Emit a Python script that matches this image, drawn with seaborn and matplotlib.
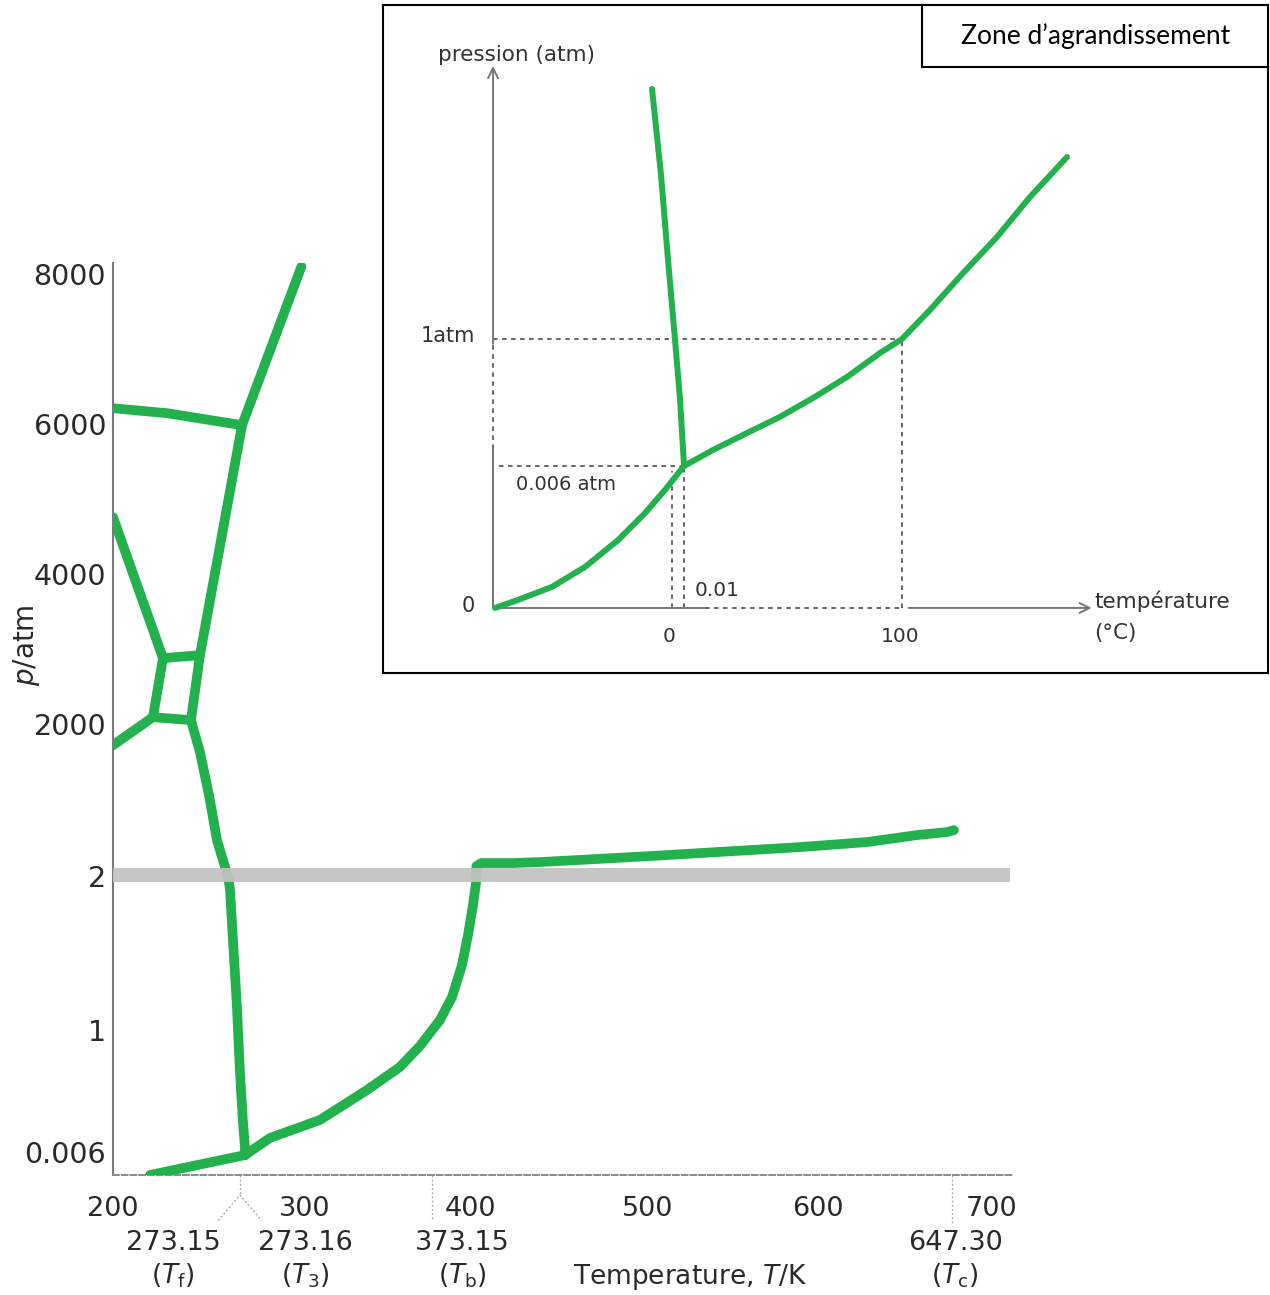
import numpy as np
import matplotlib
matplotlib.use("Agg")
import matplotlib.pyplot as plt
import seaborn as sns
from matplotlib.patches import Rectangle

# ---------------- DATA : main phase diagram (T in K, p in atm) ----------------
ice_top_T = [200.0, 231.1, 274.0]
ice_top_p = [6213, 6147, 5987]

ice_vii_T = [298.5, 274.0]
ice_vii_p = [8100, 5987]

melt_T = [274.0, 250.1, 244.9, 250.1, 255.3, 259.9, 262.8, 265.1, 266.8,
          267.4, 269.1, 271.4, 273.15, 274.4, 275.2, 275.2]
melt_p = [5987, 2920, 2053, 1631, 1066, 475, 252, 81, 1.96,
          1.909, 1.584, 1.149, 0.650, 0.242, 0.047, 0.0052]

ice_v_T = [200.0, 228.8]
ice_v_p = [4760, 2880]

ice_mid_top_T = [228.8, 250.1]
ice_mid_top_p = [2880, 2920]

ice_mid_left_T = [228.8, 223.0]
ice_mid_left_p = [2880, 2093]

ice_mid_low_T = [223.0, 244.9]
ice_mid_low_p = [2093, 2053]

ice_low_left_T = [200.0, 223.0]
ice_low_left_p = [1723, 2093]

subl_T = [221.3, 275.2]
subl_p = [0.0, 0.0052]

vap_T = [275.2, 285.5, 308.6, 335.7, 354.7, 366.2, 378.8, 387.3, 394.35, 398.6,
         401.7, 403.6, 403.6, 406.4, 424.2, 439.3, 501.2, 589.4, 617.3, 634.9,
         645.5, 649.9]
vap_p = [0.0052, 0.120, 0.267, 0.511, 0.699, 0.870, 1.065, 1.214, 1.422, 1.617,
         1.812, 1.974, 133, 173, 173, 186, 265, 383, 449, 541,
         580, 606]

x_ticks = [200, 300, 400, 500, 600, 700]
x_tick_labels = ["200", "300", "400", "500", "600", "700"]
y_ticks = [0.006, 1, 2, 2000, 4000, 6000, 8000]
y_tick_labels = ["0.006", "1", "2", "2000", "4000", "6000", "8000"]
special_T = [273.15, 373.15, 647.30]
special_values = ["273.15", "273.16", "373.15", "647.30"]
special_names = [r"($T_{\rm f}$)", r"($T_3$)", r"($T_{\rm b}$)", r"($T_{\rm c}$)"]

# ---------------- DATA : magnified inset (T in °C, p in atm) ----------------
ins_melt_T = [-9.05, -4.98, -1.81, 0.0025, 0.0067, 0.01]
ins_melt_p = [2.786, 2.171, 1.564, 0.992, 0.523, 0.006]
ins_vap_T = [-80.1, -69.7, -54.3, -39.4, -24.4, -12.2, -3.17, 0.01,
             13.3, 28.9, 44.0, 59.2, 74.8, 89.9, 100, 112.8, 128.0, 143.6,
             158.7, 175.7]
ins_vap_p = [0.0, 0.00034, 0.00089, 0.00173, 0.00287, 0.00401, 0.00499, 0.006,
             0.131, 0.264, 0.390, 0.538, 0.703, 0.890, 1.0, 1.207, 1.471, 1.729,
             2.014, 2.300]

# ---------------- axis scale knots (value -> pixel of the drawing) ----------------
X_KNOTS_VAL = [150, 200, 273.15, 300, 373.15, 400, 500, 600, 647.3, 700, 750]
X_KNOTS_PX = [26.2, 113, 240, 305, 432, 470, 648, 818, 952, 992, 1030]
Y_KNOTS_VAL = [-0.006, 0, 0.006, 1, 2, 2000, 8000, 9000]
Y_KNOTS_PX = [1198, 1175, 1152, 1030, 876, 724, 274, 199]

IX_KNOTS_VAL = [-150, -81, 0, 0.01, 100, 300]
IX_KNOTS_PX = [340.5, 493, 672, 684, 902, 1338]
IY_KNOTS_VAL = [-0.01, 0, 0.006, 1, 4]
IY_KNOTS_PX = [844.7, 608, 466, 339, -81]


def piecewise(vals, pos):
    vals = np.asarray(vals, float)
    pos = np.asarray(pos, float)
    if pos[0] > pos[-1]:
        pos = -pos

    def fwd(v):
        return np.interp(v, vals, pos)

    def inv(u):
        return np.interp(u, pos, vals)
    return fwd, inv


GREEN = "#22b14c"
TXT = "#2a2a2a"
AXC = "#7a7a7a"

sns.set_style("white")
plt.rcParams["font.family"] = ["DejaVu Sans"]

W, H = 1270, 1295
fig = plt.figure(figsize=(W / 100, H / 100), dpi=100)

# ================= main axes =================
ax = fig.add_axes([113 / W, 1 - 1175 / H, (1012 - 113) / W, (1175 - 263) / H])
ax.set_xscale("function", functions=piecewise(X_KNOTS_VAL, X_KNOTS_PX))
ax.set_yscale("function", functions=piecewise(Y_KNOTS_VAL, Y_KNOTS_PX))

segments = [
    (ice_top_T, ice_top_p), (ice_vii_T, ice_vii_p), (melt_T, melt_p),
    (ice_v_T, ice_v_p), (ice_mid_top_T, ice_mid_top_p),
    (ice_mid_left_T, ice_mid_left_p), (ice_mid_low_T, ice_mid_low_p),
    (ice_low_left_T, ice_low_left_p), (subl_T, subl_p), (vap_T, vap_p),
]
for xs, ys in segments:
    sns.lineplot(x=xs, y=ys, sort=False, estimator=None, ax=ax, color=GREEN,
                 linewidth=7, solid_capstyle="round", solid_joinstyle="round",
                 zorder=3)

ax.set_xlim(200, 726.4)
ax.set_ylim(0, 8150)

# gray band hiding the axis break at 2 atm
ax.axhspan(1.96, 107, xmin=0, xmax=0.998, color="#c2c2c2", alpha=0.92,
           zorder=5, lw=0)

ax.set_xticks(x_ticks)
ax.set_xticklabels(x_tick_labels)
ax.set_yticks(y_ticks)
ax.set_yticklabels(y_tick_labels)
ax.minorticks_off()
ax.tick_params(axis="both", direction="in", length=8, width=1.3, color=AXC,
               labelcolor=TXT)
ax.tick_params(axis="x", labelsize=19.5, pad=15)
ax.tick_params(axis="y", labelsize=20.5, pad=5)

for s in ["top", "right"]:
    ax.spines[s].set_visible(False)
ax.spines["left"].set_color(AXC)
ax.spines["left"].set_linewidth(1.5)
ax.spines["bottom"].set_color("#8a8a8a")
ax.spines["bottom"].set_linewidth(1.4)
ax.spines["bottom"].set_linestyle((0, (3, 1.5)))
ax.set_xlabel("")
ax.set_ylabel("$p$/atm", fontsize=20, color=TXT)
ax.yaxis.set_label_coords(-0.079, 0.581)

# dotted leaders under the temperature axis
tr = ax.get_xaxis_transform()
dot = dict(color="#b0b0b0", lw=1.0, linestyle=(0, (1.5, 1.5)), clip_on=False)
ax.plot([special_T[0], special_T[0]], [0, -0.022], transform=tr, **dot)
ax.plot([260.5, special_T[0], 282.2], [-0.05, -0.022, -0.05], transform=tr, **dot)
ax.plot([special_T[1], special_T[1]], [0, -0.049], transform=tr, **dot)
ax.plot([special_T[2], special_T[2]], [0, -0.053], transform=tr, **dot)

label_px = [173, 305, 462, 955]
for px, v, n in zip(label_px, special_values, special_names):
    fig.text(px / W, 1 - 1243 / H, v, ha="center", va="center",
             fontsize=19.5, color=TXT)
    fig.text(px / W, 1 - 1276 / H, n, ha="center", va="center",
             fontsize=19, color=TXT)
fig.text(690 / W, 1 - 1277 / H, "Temperature, $T$/K", ha="center",
         va="center", fontsize=19, color=TXT)

# ================= inset =================
ins = fig.add_axes([383 / W, 1 - 673 / H, (1268 - 383) / W, (673 - 5) / H],
                   zorder=10)
ins.set_facecolor("white")
ins.set_xscale("function", functions=piecewise(IX_KNOTS_VAL, IX_KNOTS_PX))
ins.set_yscale("function", functions=piecewise(IY_KNOTS_VAL, IY_KNOTS_PX))

IC = "#5a5a5a"
dash = dict(color=IC, lw=1.3, linestyle=(0, (2.5, 2.5)), zorder=2)
ins.plot([-81, 100], [1, 1], **dash)
ins.plot([-78.3, 0.01], [0.006, 0.006], **dash)
ins.plot([0, 0], [0, 0.0058], **dash)
ins.plot([0.01, 0.01], [0, 0.006], **dash)
ins.plot([100, 100], [0, 1], **dash)
ins.plot([-81, -81], [0.139, 0.961], **dash)
ins.plot([9.64, 100], [0, 0], **dash)

solid = dict(color="#777777", lw=1.4, zorder=2)
ins.plot([-81, -81], [0, 0.139], **solid)
ins.plot([-81, 9.64], [0, 0], **solid)
ins.annotate("", xy=(-81, 2.95), xytext=(-81, 0.961),
             arrowprops=dict(arrowstyle="->", color="#777777", lw=1.4,
                             shrinkA=0, shrinkB=0, mutation_scale=18))
ins.annotate("", xy=(187, 0), xytext=(103, 0),
             arrowprops=dict(arrowstyle="->", color="#777777", lw=1.4,
                             shrinkA=0, shrinkB=0, mutation_scale=18))

for xs, ys in [(ins_melt_T, ins_melt_p), (ins_vap_T, ins_vap_p)]:
    sns.lineplot(x=xs, y=ys, sort=False, estimator=None, ax=ins, color=GREEN,
                 linewidth=4.3, solid_capstyle="round",
                 solid_joinstyle="round", zorder=3)

ins.set_xlim(-130.8, 267.9)
ins.set_ylim(-0.00275, 3.386)
ins.set_xticks([])
ins.set_yticks([])
ins.set_xlabel("")
ins.set_ylabel("")
for s in ins.spines.values():
    s.set_visible(True)
    s.set_color("black")
    s.set_linewidth(1.5)


def fx(px):
    return (px - 383) / (1268 - 383)


def fy(py):
    return (673 - py) / (673 - 5)


t = ins.transAxes
ins.text(fx(516), fy(55), "pression (atm)", transform=t, ha="center",
         va="center", fontsize=15.5, color="#333333")
ins.text(fx(448), fy(336), "1atm", transform=t, ha="center", va="center",
         fontsize=15, color="#333333")
ins.text(fx(468), fy(606), "0", transform=t, ha="center", va="center",
         fontsize=15, color="#333333")
ins.text(fx(566), fy(484), "0.006 atm", transform=t, ha="center",
         va="center", fontsize=14, color="#333333")
ins.text(fx(717), fy(591), "0.01", transform=t, ha="center", va="center",
         fontsize=14.5, color="#333333")
ins.text(fx(669), fy(636), "0", transform=t, ha="center", va="center",
         fontsize=14.5, color="#333333")
ins.text(fx(900), fy(636), "100", transform=t, ha="center", va="center",
         fontsize=14.5, color="#333333")
ins.text(fx(1094), fy(601), "température", transform=t, ha="left",
         va="center", fontsize=15.5, color="#333333")
ins.text(fx(1094), fy(633), "(°C)", transform=t, ha="left", va="center",
         fontsize=15.5, color="#333333")

ins.add_patch(Rectangle((fx(922), fy(67)), 1 - fx(922), 1 - fy(67),
                        transform=t, facecolor="white", edgecolor="black",
                        lw=1.5, zorder=6, clip_on=False))
ins.text(fx(1096), fy(36), "Zone d\u2019agrandissement", transform=t,
         ha="center", va="center", fontsize=19, color="black",
         family=["Lato", "DejaVu Sans"], zorder=7)

fig.savefig("out.png", dpi=100)
